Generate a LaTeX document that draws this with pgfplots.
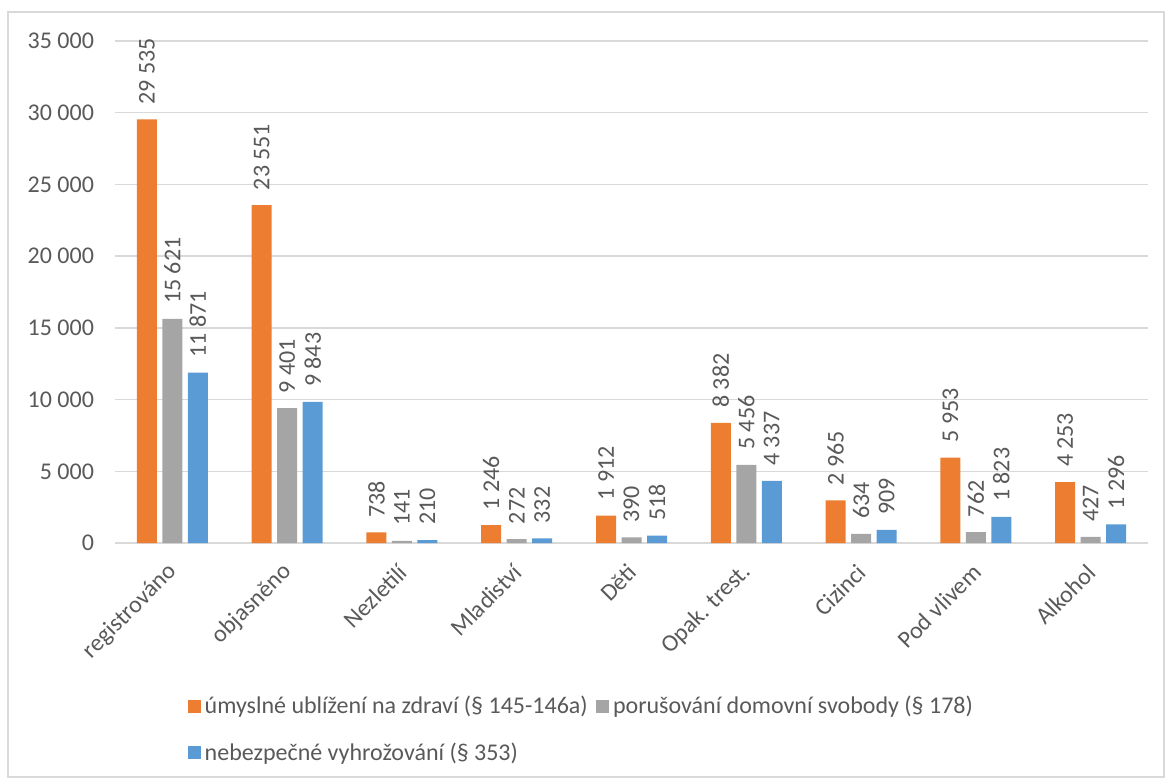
\documentclass[border=0pt]{standalone}
\usepackage{fontspec}
\setmainfont{Carlito}
\usepackage{pgfplots}
\pgfplotsset{compat=1.18}
\definecolor{cor}{HTML}{ED7D31}
\definecolor{cgr}{HTML}{A5A5A5}
\definecolor{cbl}{HTML}{5B9BD5}
\definecolor{ctxt}{HTML}{595959}
\definecolor{cgrid}{HTML}{D9D9D9}
\pgfplotsset{sqleg/.style={legend image code/.code={\fill[##1] (0pt,-3.3pt) rectangle (6.6pt,3.3pt);}}}
\begin{document}
\begin{tikzpicture}
\useasboundingbox (-57.5pt,-117.5pt) rectangle (525pt,271.5pt);
\draw[cgrid, line width=0.75pt] (-53.5pt,-117pt) rectangle (524.5pt,265.5pt);
\begin{axis}[
  scale only axis, width=516.5pt, height=251pt,
  ymin=0, ymax=35000, xmin=-0.5, xmax=8.5,
  ybar=2.75pt, bar width=10pt,
  axis lines*=left,
  x axis line style={cgrid, line width=0.75pt},
  y axis line style={draw=none},
  tick style={draw=none},
  ytick={0,5000,...,35000},
  scaled y ticks=false,
  ymajorgrids, grid style={cgrid, line width=0.75pt},
  /pgf/number format/.cd, 1000 sep={\ }, assume math mode=true, /pgfplots/.cd,
  ticklabel style={font=\fontsize{12}{14}\selectfont, text=ctxt},
  yticklabel style={xshift=-7pt},
  xtick={0,...,8},
  xticklabels={registrováno, objasněno, Nezletilí, Mladiství, Děti, Opak. trest., Cizinci, Pod vlivem, Alkohol},
  xticklabel style={xshift=3pt, yshift=-6pt, rotate=45, anchor=east},
  nodes near coords,
  nodes near coords style={rotate=90, anchor=west, font=\fontsize{12}{14}\selectfont, text=ctxt, xshift=4pt},
  legend columns=2,
  legend cell align=left,
  legend style={draw=none, fill=none, at={(0.064,-0.288)}, anchor=north west,
    font=\fontsize{12}{14}\selectfont, text=ctxt, row sep=9pt,
    /tikz/every even column/.append style={column sep=2pt}},
]
\addplot[fill=cor, draw=none, sqleg] coordinates {(0,29535) (1,23551) (2,738) (3,1246) (4,1912) (5,8382) (6,2965) (7,5953) (8,4253)};
\addplot[fill=cgr, draw=none, sqleg] coordinates {(0,15621) (1,9401) (2,141) (3,272) (4,390) (5,5456) (6,634) (7,762) (8,427)};
\addplot[fill=cbl, draw=none, sqleg] coordinates {(0,11871) (1,9843) (2,210) (3,332) (4,518) (5,4337) (6,909) (7,1823) (8,1296)};
\legend{úmyslné ublížení na zdraví (§ 145-146a), porušování domovní svobody (§ 178), nebezpečné vyhrožování (§ 353)}
\end{axis}
\end{tikzpicture}
\end{document}
